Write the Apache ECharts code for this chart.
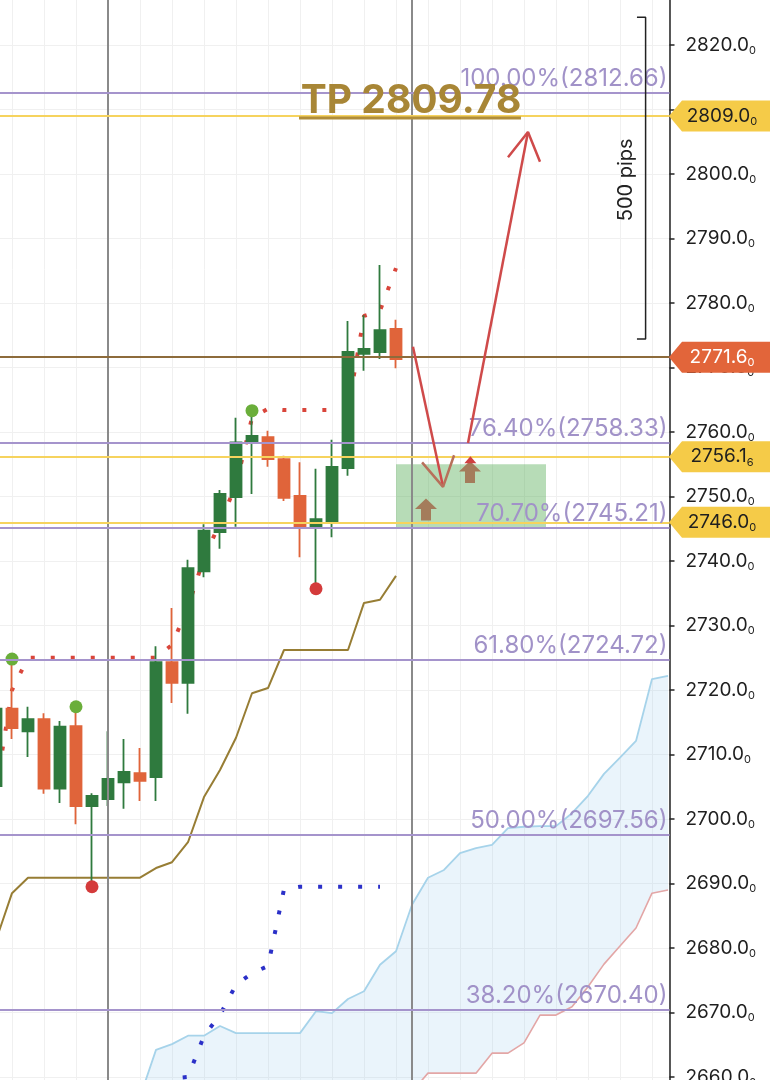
<!DOCTYPE html>
<html><head><meta charset="utf-8">
<script src="https://cdn.jsdelivr.net/npm/echarts@6/dist/echarts.min.js"></script>
<style>html,body{margin:0;padding:0;background:#fff}#c{width:770px;height:1080px}</style>
</head><body><div id="c"></div>
<script>
// ---------- data ----------
const candleK = [-1,0,1,2,3,4,5,6,7,8,9,10,11,12,13,14,15,16,17,18,19,20,21,22,23,24];
const opens  = [2705.1,2717.1,2713.6,2715.5,2704.7,2714.4,2702.0,2703.1,2705.7,2707.1,2706.5,2724.3,2721.1,2738.4,2744.5,2749.9,2758.3,2759.2,2755.8,2750.1,2745.4,2745.9,2754.4,2772.1,2772.4,2776.0];
const closes = [2717.1,2714.1,2715.5,2704.7,2714.3,2702.0,2703.6,2706.2,2707.3,2705.9,2724.3,2721.1,2738.9,2744.7,2750.4,2758.4,2759.4,2755.8,2749.8,2745.4,2746.5,2754.6,2772.4,2772.9,2775.8,2771.3];
const highs  = [2719.0,2724.3,2717.4,2716.4,2715.2,2716.9,2704.0,2713.6,2712.4,2711.0,2726.8,2732.7,2740.2,2745.7,2751.0,2762.2,2762.8,2760.2,2756.3,2755.3,2754.3,2758.8,2777.2,2778.1,2785.9,2777.4];
const lows   = [2703.0,2712.4,2709.6,2703.9,2702.5,2699.2,2689.6,2702.0,2701.6,2702.8,2702.8,2718.0,2716.3,2737.5,2741.9,2745.3,2750.4,2754.6,2749.3,2740.6,2735.8,2743.7,2753.2,2769.5,2771.3,2769.9];

const kijun  = [2681.2,2688.5,2690.9,2690.9,2690.9,2690.9,2690.9,2690.9,2690.9,2690.9,2692.4,2693.3,2696.4,2703.4,2707.6,2712.6,2719.5,2720.3,2726.2,2726.2,2726.2,2726.2,2726.2,2733.5,2734.0,2737.7];
const tenkan = [2704.5,2720.0,2725.0,2725.0,2725.0,2725.0,2725.0,2725.0,2725.0,2725.0,2725.0,2727.0,2732.9,2740.5,2745.9,2751.8,2762.2,2763.6,2763.4,2763.4,2763.4,2763.4,2763.4,2778.0,2778.8,2785.4];

const chikouK = [9,10,11,12,13,14,15,16,17,18,19,20,21,22,23];
const chikou  = [2656.0,2659.8,2660.0,2666.4,2669.6,2674.3,2676.1,2677.2,2689.1,2689.5,2689.5,2689.5,2689.5,2689.5,2689.5];

const cloudK  = [8,9,10,11,12,13,14,15,16,17,18,19,20,21,22,23,24,25,26,27,28,29,30,31,32,33,34,35,36,37,38,39,40,41];
const senkouA = [2656.9,2664.2,2665.1,2666.4,2666.4,2667.9,2666.8,2666.8,2666.8,2666.8,2666.8,2670.2,2669.9,2672.1,2673.3,2677.4,2679.5,2686.7,2690.9,2692.1,2694.7,2695.5,2696.0,2698.6,2698.8,2698.9,2698.9,2700.9,2703.6,2707.0,2709.5,2712.1,2721.7,2722.2];
const senkouB = [2655,2655,2655,2655,2655,2655,2655,2655,2655,2655,2655,2655,2655,2655,2655,2655,2655,2657.7,2660.6,2660.6,2660.6,2660.6,2663.7,2663.7,2665.3,2669.6,2669.6,2670.9,2674.0,2677.5,2680.3,2683.1,2688.5,2689.0];

const fractalUpK = [0,4,15];  const fractalUp = [2724.8,2717.4,2763.3];
const fractalDnK = [5,19];    const fractalDn = [2689.5,2735.7];

const fibPct   = ['100.00%','76.40%','70.70%','61.80%','50.00%','38.20%'];
const fibPrice = [2812.66,2758.33,2745.21,2724.72,2697.56,2670.40];
const keyLevels = [2809.00,2756.16,2746.00];
const pivotLevels = [2771.60];
const sessionBreaks = [6,25];

const tpText = 'TP 2809.78';
const tpPoint = [24.94, 2811.3];
const tpUnderline = [[17.94,2808.7],[31.81,2808.7]];
const pipsText = '500 pips';
const pipsPoint = [38.4, 2799.1];
const pipsBracket = [[39.06,2824.3],[39.6,2824.3],[39.6,2774.4],[39.06,2774.4]];
const arrowDown = [[25.06,2773.2],[26.94,2751.5]];
const arrowDownHead = [[25.63,2755.3],[26.94,2751.5],[27.63,2756.4]];
const arrowUp = [[28.5,2758.3],[32.25,2806.5]];
const arrowUpHead = [[31.0,2802.6],[32.25,2806.5],[33.0,2801.9]];
const zoneBox = [[24.0,2745.2],[33.375,2755.0]];
const upMarks = [[25.875,2748.0],[28.625,2753.8]];
const upMarkTip = [[28.65,2755.7]];

const yMin = 2650, yMax = 2830, yStep = 10;
const xMin = -2, xMax = 41.094, xStep = 2;

// ---------- helpers ----------
const zip = (a,b)=>a.map((v,i)=>[v,b[i]]);
const splitNum = (v)=>{const s=v.toFixed(2);return '{a|'+s.slice(0,-1)+'}{b|'+s.slice(-1)+'}';};
const FONT = 'Inter, "Liberation Sans", sans-serif';
const richBlack = {a:{fontSize:19,color:'#1f1f1f',fontFamily:FONT,lineHeight:22},b:{fontSize:11,color:'#1f1f1f',fontFamily:FONT,lineHeight:16,verticalAlign:'bottom'}};
const richWhite = {a:{fontSize:19,color:'#ffffff',fontFamily:FONT,lineHeight:22},b:{fontSize:11,color:'#ffffff',fontFamily:FONT,lineHeight:16,verticalAlign:'bottom'}};
const TAG = 'path://M0,15.5 L13,0 L106,0 L106,31 L13,31 Z';
const UPARROW = 'path://M11,0 L22,11 L16,11 L16,23 L6,23 L6,11 L0,11 Z';
const xTag = 41.0;

const chart = echarts.init(document.getElementById('c'), null, {renderer:'canvas'});
const option = {
  animation:false,
  backgroundColor:'#ffffff',
  textStyle:{fontFamily:FONT},
  grid:{left:-20,right:100.5,top:-19.5,bottom:-61.5,containLabel:false,outerBoundsMode:'none'},
  xAxis:{type:'value',min:xMin,max:xMax,interval:xStep,
    axisLine:{show:false,onZero:false},axisTick:{show:false},axisLabel:{show:false},
    splitLine:{show:true,lineStyle:{color:'#f0f0f0',width:1}}},
  yAxis:{type:'value',position:'right',min:yMin,max:yMax,interval:yStep,
    axisLine:{show:true,onZero:false,lineStyle:{color:'#222',width:1.5}},
    axisTick:{show:true,length:5,lineStyle:{color:'#222',width:1.5}},
    axisLabel:{margin:16,formatter:splitNum,rich:richBlack},
    splitLine:{show:true,lineStyle:{color:'#f0f0f0',width:1}}},
  series:[
    { // cloud fill
      type:'custom',z:1,silent:true,
      data:[[cloudK[0],senkouA[0]]],
      renderItem:function(params,api){
        const top = cloudK.map((k,i)=>api.coord([k,senkouA[i]]));
        const bot = cloudK.map((k,i)=>api.coord([k,senkouB[i]])).reverse();
        return {type:'polygon',shape:{points:top.concat(bot)},style:{fill:'rgba(150,200,235,0.2)'}};
      }
    },
    {type:'line',z:2,data:zip(cloudK,senkouA),symbol:'none',lineStyle:{color:'#A6D3EA',width:1.8},silent:true},
    {type:'line',z:2,data:zip(cloudK,senkouB),symbol:'none',lineStyle:{color:'#E3A6A6',width:1.6},silent:true},
    {type:'line',z:2,data:zip(candleK,kijun),symbol:'none',lineStyle:{color:'#977D34',width:2},silent:true},
    {type:'line',z:2,data:zip(chikouK,chikou),symbol:'none',lineStyle:{color:'#2B30C8',width:4,type:[4,16],cap:'butt'},silent:true},
    {type:'line',z:2,data:zip(candleK,tenkan),symbol:'none',lineStyle:{color:'#D9453B',width:4,type:[4,16],cap:'butt'},silent:true},
    {
      type:'candlestick',z:3,barWidth:11,
      data:candleK.map((k,i)=>[k,opens[i],closes[i],lows[i],highs[i]]),
      itemStyle:{color:'#2F7A3E',color0:'#E0643A',borderColor:'#2F7A3E',borderColor0:'#E0643A',borderWidth:1.8},
      markArea:{silent:true,itemStyle:{color:'rgba(76,168,76,0.4)'},data:[[{coord:zoneBox[0]},{coord:zoneBox[1]}]]}
    },
    {type:'scatter',z:4,symbolSize:13,data:zip(fractalUpK,fractalUp),itemStyle:{color:'#6AAE3A',opacity:1}},
    {type:'scatter',z:4,symbolSize:13,data:zip(fractalDnK,fractalDn),itemStyle:{color:'#D43B3B',opacity:1}},
    { // horizontal levels and session lines
      type:'line',z:5,data:[],
      markLine:{silent:true,symbol:'none',z:5,
        data:[
          ...sessionBreaks.map(k=>({xAxis:k,lineStyle:{color:'#8a8a8a',width:2,type:'solid'},label:{show:false}})),
          ...fibPrice.map((p,i)=>({yAxis:p,lineStyle:{color:'#A594CC',width:2,type:'solid'},
             label:{show:true,position:'insideEndTop',distance:2,formatter:fibPct[i]+'('+p.toFixed(2)+')',color:'#A192C8',fontSize:24,fontFamily:FONT}})),
          ...keyLevels.map(p=>({yAxis:p,lineStyle:{color:'#F6D35E',width:2,type:'solid'},label:{show:false}})),
          ...pivotLevels.map(p=>({yAxis:p,lineStyle:{color:'#8D6B3B',width:2,type:'solid'},label:{show:false}}))
        ]}
    },
    {type:'line',z:6,data:arrowDown,symbol:'none',lineStyle:{color:'#CF4A4A',width:2.5},silent:true},
    {type:'line',z:6,data:arrowDownHead,symbol:'none',lineStyle:{color:'#B8705A',width:2.5},silent:true},
    {type:'line',z:6,data:arrowUp,symbol:'none',lineStyle:{color:'#CF4A4A',width:2.5},silent:true},
    {type:'line',z:6,data:arrowUpHead,symbol:'none',lineStyle:{color:'#CF4A4A',width:2.5},silent:true},
    {type:'scatter',z:6,data:upMarks,symbol:UPARROW,symbolSize:[22,22],itemStyle:{color:'#A47C5B',opacity:1},silent:true},
    {type:'scatter',z:6,data:upMarkTip,symbol:'triangle',symbolSize:[12,7],itemStyle:{color:'#D04040',opacity:1},silent:true},
    {type:'line',z:7,data:tpUnderline,symbol:'none',lineStyle:{color:'#B08D3A',width:3},silent:true},
    {type:'line',z:7,data:pipsBracket,symbol:'none',lineStyle:{color:'#222',width:1.5},silent:true},
    { // texts and price tags
      type:'line',z:10,data:[],
      markPoint:{silent:true,z:10,
        data:[
          {coord:tpPoint,symbol:'circle',symbolSize:1,itemStyle:{color:'rgba(0,0,0,0)'},
           label:{show:true,position:'inside',formatter:tpText,fontSize:39,fontWeight:'bold',color:'#A88636',fontFamily:FONT}},
          {coord:pipsPoint,symbol:'circle',symbolSize:1,itemStyle:{color:'rgba(0,0,0,0)'},
           label:{show:true,position:'inside',rotate:90,formatter:pipsText,fontSize:20,color:'#222',fontFamily:FONT}},
          ...keyLevels.map(p=>({coord:[xTag,p],symbol:TAG,symbolKeepAspect:false,symbolSize:[106,31],symbolOffset:[54,0],
             itemStyle:{color:'#F5CB48'},label:{show:true,position:'inside',formatter:splitNum(p),rich:richBlack}})),
          ...pivotLevels.map(p=>({coord:[xTag,p],symbol:TAG,symbolKeepAspect:false,symbolSize:[106,31],symbolOffset:[54,0],
             itemStyle:{color:'#E2653A'},label:{show:true,position:'inside',formatter:splitNum(p),rich:richWhite}}))
        ]}
    }
  ]
};
chart.setOption(option);
</script>
</body></html>
